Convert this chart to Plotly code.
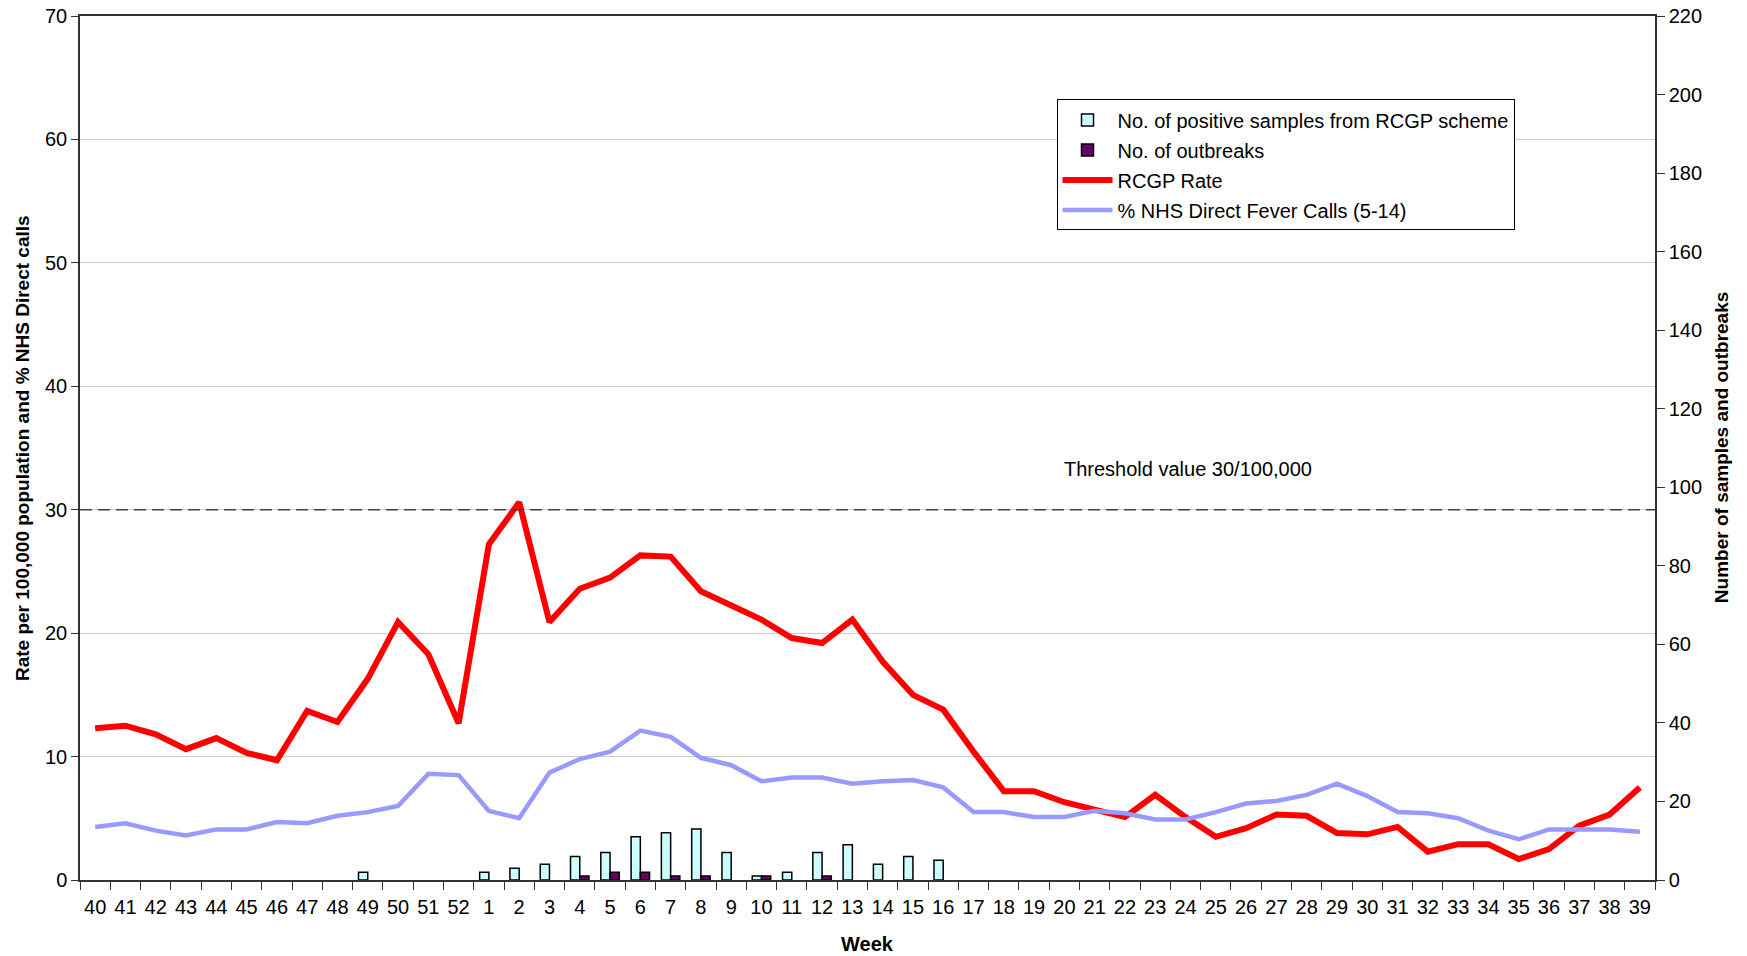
import plotly.graph_objects as go

weeks = [str(w) for w in list(range(40, 53)) + list(range(1, 40))]

rcgp_rate = [12.3, 12.5, 11.8, 10.6, 11.5, 10.3, 9.7, 13.7, 12.8, 16.3, 20.9, 18.3, 12.7,
             27.2, 30.6, 20.9, 23.6, 24.5, 26.3, 26.2, 23.4, 22.2, 21.1, 19.6, 19.2, 21.1,
             17.7, 15.0, 13.8, 10.4, 7.2, 7.2, 6.3, 5.7, 5.1, 6.9, 5.1, 3.5, 4.2, 5.3,
             5.2, 3.8, 3.7, 4.3, 2.3, 2.9, 2.9, 1.7, 2.5, 4.4, 5.3, 7.5]

nhs_fever = [4.3, 4.6, 4.0, 3.6, 4.1, 4.1, 4.7, 4.6, 5.2, 5.5, 6.0, 8.6, 8.5,
             5.6, 5.0, 8.7, 9.8, 10.4, 12.1, 11.6, 9.9, 9.3, 8.0, 8.3, 8.3, 7.8,
             8.0, 8.1, 7.5, 5.5, 5.5, 5.1, 5.1, 5.6, 5.4, 4.9, 4.9, 5.5, 6.2, 6.4,
             6.9, 7.8, 6.8, 5.5, 5.4, 5.0, 4.0, 3.3, 4.1, 4.1, 4.1, 3.9]

positive_samples = [None] * 9 + [2] + [None] * 3 + [2, 3, 4, 6, 7, 11, 12, 13, 7, 1, 2, 7, 9, 4, 6, 5] + [None] * 23

outbreaks = [None] * 16 + [1, 2, 2, 1, 1, None, 1, None, 1] + [None] * 27

threshold = 30
threshold_label = "Threshold value 30/100,000"

FONT = "Arial, Liberation Sans, sans-serif"
FS = 20

fig = go.Figure()

fig.add_trace(go.Bar(
    x=weeks, y=positive_samples, name="No. of positive samples from RCGP scheme",
    marker=dict(color="#CCFFFF", line=dict(color="black", width=1.5)),
    yaxis="y2", legendgroup="a"))
fig.add_trace(go.Bar(
    x=weeks, y=outbreaks, name="No. of outbreaks",
    marker=dict(color="#660066", line=dict(color="black", width=1.5)),
    yaxis="y2", legendgroup="b"))
fig.add_trace(go.Scatter(
    x=weeks, y=rcgp_rate, name="RCGP Rate", mode="lines",
    line=dict(color="#FF0000", width=6), legendgroup="c"))
fig.add_trace(go.Scatter(
    x=weeks, y=nhs_fever, name="% NHS Direct Fever Calls (5-14)", mode="lines",
    line=dict(color="#9999FF", width=4.5), legendgroup="d"))

fig.add_shape(type="line", xref="paper", yref="y", x0=0, x1=1, y0=threshold, y1=threshold,
              line=dict(color="#404040", width=1.5, dash="12px,6px"), layer="above")

fig.add_annotation(text=threshold_label, xref="paper", yref="y", x=0.6235, y=33.3,
                   xanchor="left", yanchor="middle", showarrow=False,
                   font=dict(family=FONT, size=FS, color="black"))

fig.add_annotation(text="<b>Rate per 100,000 population and % NHS Direct calls</b>",
                   xref="paper", yref="paper", x=-0.0368, y=0.5, textangle=-90,
                   xanchor="center", yanchor="middle", showarrow=False,
                   font=dict(family=FONT, size=19, color="black"))
fig.add_annotation(text="<b>Number of samples and outbreaks</b>",
                   xref="paper", yref="paper", x=1.042, y=0.5, textangle=-90,
                   xanchor="center", yanchor="middle", showarrow=False,
                   font=dict(family=FONT, size=19, color="black"))
fig.add_annotation(text="<b>Week</b>", xref="paper", yref="paper", x=0.5, y=-0.074,
                   xanchor="center", yanchor="middle", showarrow=False,
                   font=dict(family=FONT, size=FS, color="black"))

fig.update_layout(
    width=1747, height=956,
    margin=dict(l=80, r=92, t=16, b=76, autoexpand=False),
    paper_bgcolor="white", plot_bgcolor="white",
    font=dict(family=FONT, size=FS, color="black"),
    barmode="group", bargap=0.39, bargroupgap=0,
    showlegend=True,
    legend=dict(x=0.62, y=0.9035, xanchor="left", yanchor="top",
                bgcolor="white", bordercolor="black", borderwidth=1,
                font=dict(family=FONT, size=FS, color="black"),
                traceorder="grouped", tracegroupgap=1, itemwidth=50),
    xaxis=dict(type="category", categoryorder="array", categoryarray=weeks,
               automargin=False, tickangle=0,
               showline=True, linecolor="#333333", linewidth=1.5, mirror=True,
               ticks="outside", ticklen=8, tickcolor="#333333", tickson="boundaries",
               showgrid=False, tickfont=dict(size=FS), ticklabelstandoff=8),
    yaxis=dict(range=[0, 70], dtick=10, showline=True, linecolor="#333333", linewidth=1.5,
               automargin=False, ticklabeloverflow="allow",
               ticks="outside", ticklen=7, tickcolor="#333333",
               showgrid=True, gridcolor="#CCCCCC", gridwidth=1, zeroline=False,
               tickfont=dict(size=FS)),
    yaxis2=dict(range=[0, 220], dtick=20, overlaying="y", side="right",
                automargin=False, ticklabeloverflow="allow",
                showline=True, linecolor="#333333", linewidth=1.5,
                ticks="outside", ticklen=8, tickcolor="#333333",
                showgrid=False, zeroline=False, tickfont=dict(size=FS)),
)

fig.write_html("out.html", config={"displayModeBar": False},
               post_script="document.body.style.margin='0px';")
